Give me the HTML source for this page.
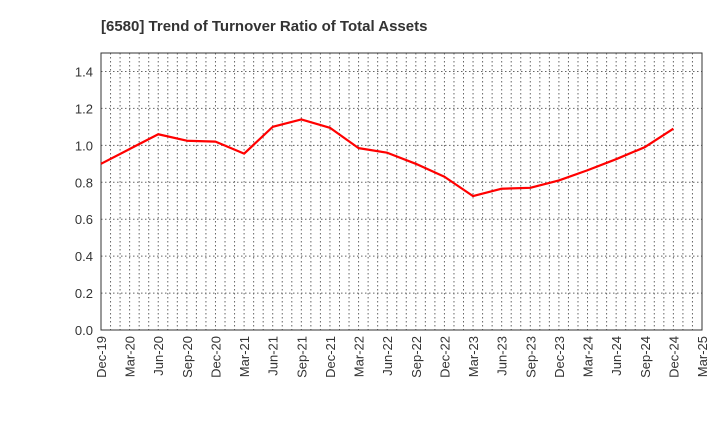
<!DOCTYPE html>
<html><head><meta charset="utf-8"><style>
body{margin:0;background:#fff;}
svg text{font-family:"Liberation Sans",sans-serif;}
</style></head><body>
<svg id="c" width="720" height="440" xmlns="http://www.w3.org/2000/svg">
<text x="101" y="31" font-size="15" font-weight="bold" fill="#333">[6580]  Trend of Turnover Ratio of Total Assets</text>
<g id="grid"></g><g id="axes"></g><g id="series"></g>
</svg>
<script>
const categories=["Dec-19","Mar-20","Jun-20","Sep-20","Dec-20","Mar-21","Jun-21","Sep-21","Dec-21","Mar-22","Jun-22","Sep-22","Dec-22","Mar-23","Jun-23","Sep-23","Dec-23","Mar-24","Jun-24","Sep-24","Dec-24","Mar-25"];
const values=[0.90,0.98,1.06,1.025,1.02,0.955,1.10,1.14,1.095,0.985,0.96,0.90,0.83,0.725,0.765,0.77,0.81,0.865,0.925,0.99,1.09];
const yTicks=[0.0,0.2,0.4,0.6,0.8,1.0,1.2,1.4];
const L=101,R=702,T=53,B=330,yMax=1.5;
const NS="http://www.w3.org/2000/svg";
const x=i=>L+(R-L)*i/(categories.length-1);
const y=v=>B-(B-T)*v/yMax;
function mk(tag,attrs,parent){const e=document.createElementNS(NS,tag);for(const k in attrs)e.setAttribute(k,attrs[k]);document.getElementById(parent).appendChild(e);return e;}
const months=(categories.length-1)*3;
for(let m=1;m<months;m++){const xx=L+(R-L)*m/months;
const g=mk('line',{x1:xx,x2:xx,y1:T,y2:B,stroke:'#666','stroke-dasharray':'1.5,2.5','stroke-width':1},'grid');

}
yTicks.forEach(v=>{
if(v>0){const g=mk('line',{x1:L,x2:R,y1:y(v),y2:y(v),stroke:'#666','stroke-dasharray':'1.5,2.5','stroke-width':1},'grid');

}
const t=mk('text',{x:L-8,y:y(v)+5,'text-anchor':'end','font-size':13,fill:'#333'},'axes');t.textContent=v.toFixed(1);


});
const fr=mk('rect',{x:L,y:T,width:R-L,height:B-T,fill:'none',stroke:'#333','stroke-width':1},'axes');


categories.forEach((c,i)=>{
const t=mk('text',{transform:`translate(${x(i)+5},${B+6}) rotate(-90)`,'text-anchor':'end','font-size':13,fill:'#333'},'axes');t.textContent=c;


});
const pts=values.map((v,i)=>x(i)+','+y(v)).join(' ');
const p=mk('polyline',{points:pts,fill:'none',stroke:'#f00','stroke-width':2.2,'stroke-linejoin':'round'},'series');


</script>
</body></html>
